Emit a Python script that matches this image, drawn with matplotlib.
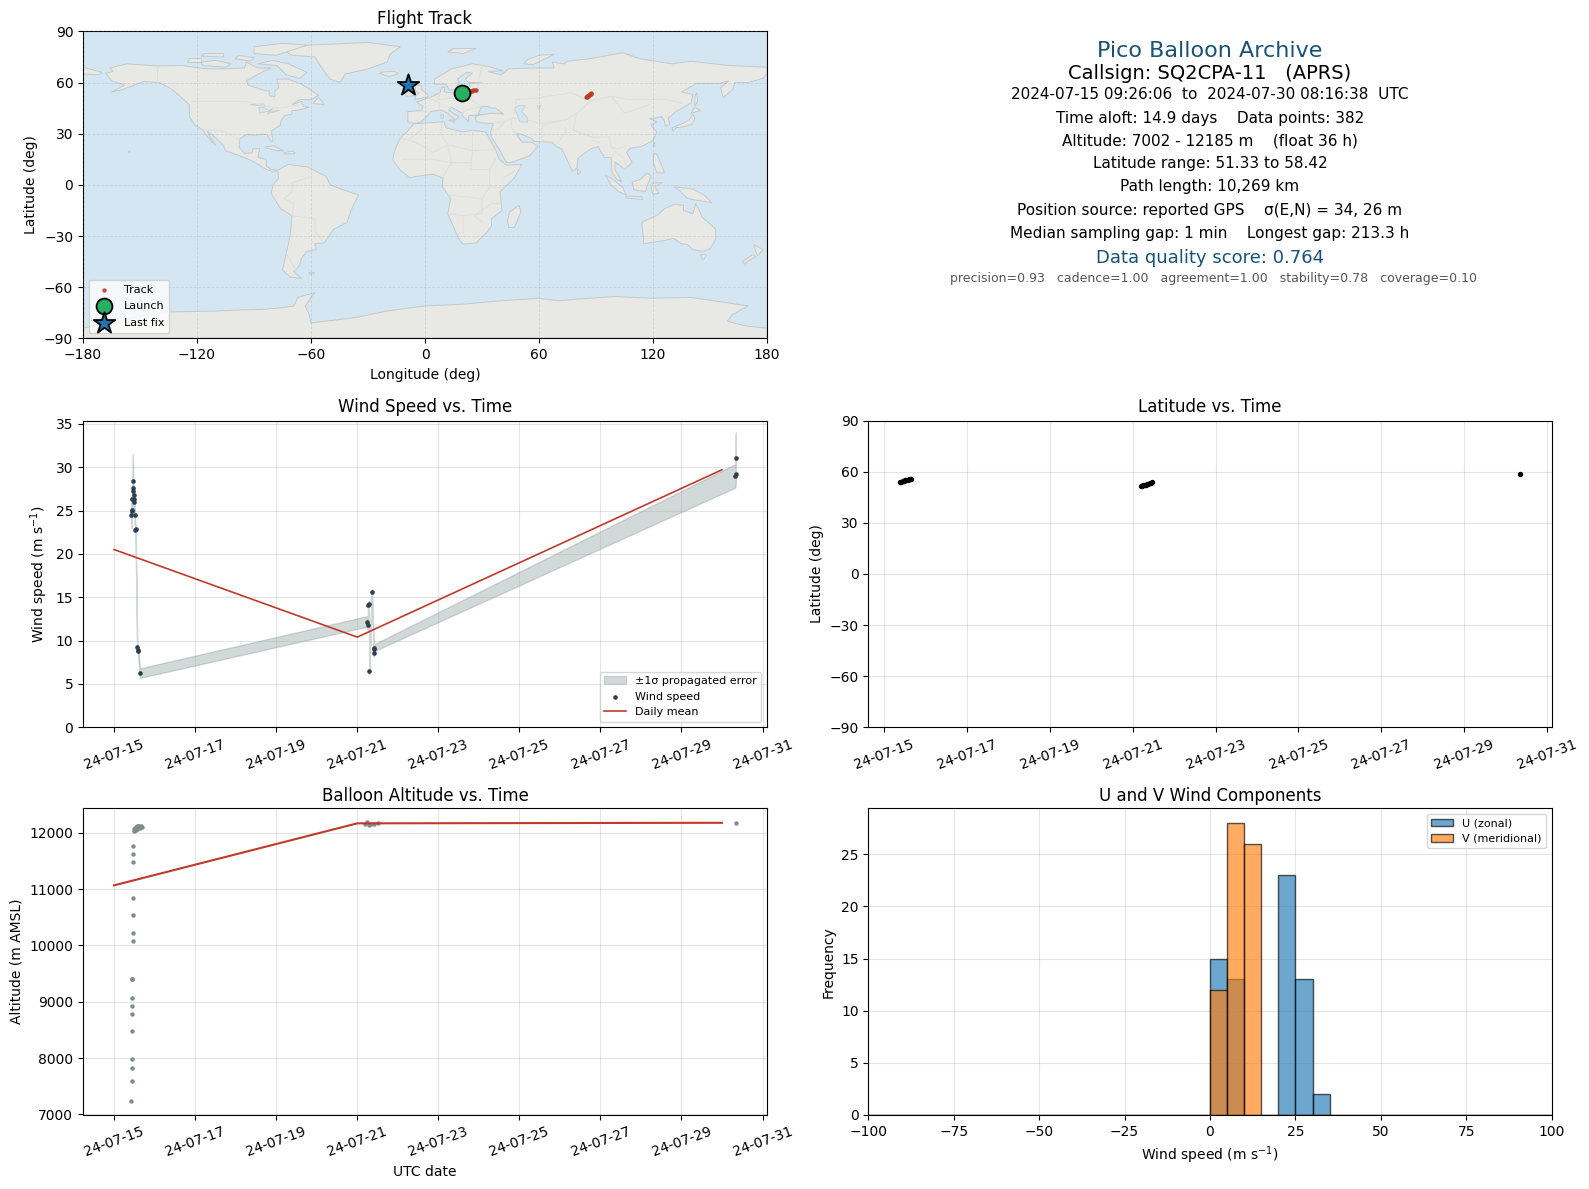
import numpy as np
import matplotlib
matplotlib.use("Agg")
import matplotlib.pyplot as plt
import matplotlib.dates as mdates
from matplotlib.patches import Polygon

# ---------- data ----------
T0 = mdates.date2num(np.datetime64("2024-07-15"))
tick_days = [0, 2, 4, 6, 8, 10, 12, 14, 16]

wind_days = [0.425, 0.430, 0.435, 0.445, 0.464, 0.470, 0.475, 0.490, 0.495, 0.500, 0.510, 0.520, 0.530,
             0.570, 0.580, 0.590, 0.640,
             6.23, 6.26, 6.27, 6.285, 6.30, 6.36, 6.41, 6.42, 6.425,
             15.33, 15.335, 15.34]
wind_speed = [24.5, 25.1, 24.9, 26.3, 28.4, 27.6, 27.3, 26.8, 26.0, 26.3, 24.5, 22.7, 22.85,
              9.25, 8.9, 8.8, 6.25,
              12.2, 11.8, 14.1, 14.25, 6.45, 15.6, 8.55, 9.0, 9.2,
              29.0, 29.2, 31.1]
wind_sigma = [1.5, 1.2, 1.0, 0.8, 3.1, 1.5, 1.0, 0.8, 0.8, 0.8, 0.8, 0.5, 0.5,
              0.4, 0.4, 0.4, 0.55,
              0.6, 0.5, 0.3, 0.3, 0.3, 0.3, 0.4, 0.4, 0.4,
              1.35, 1.35, 2.9]

mean_days = [0, 6, 15]
wind_mean = [20.5, 10.4, 29.7]
alt_mean = [11065, 12165, 12175]

alt_days = [0.42, 0.44, 0.44, 0.44, 0.44, 0.44, 0.44, 0.44, 0.44, 0.44,
            0.465, 0.465, 0.465, 0.465, 0.465, 0.465, 0.465,
            0.49, 0.50, 0.51, 0.52, 0.53, 0.54, 0.55, 0.56, 0.57, 0.58, 0.59, 0.60, 0.62, 0.64, 0.66, 0.68,
            6.2, 6.25, 6.3, 6.35, 6.42, 6.5, 15.34]
altitude = [7240, 7593, 7824, 7984, 8481, 8783, 8921, 9063, 9400, 9400,
            10074, 10216, 10536, 10838, 11478, 11620, 11763,
            12030, 12060, 12040, 12085, 12055, 12100, 12060, 12110, 12070, 12125, 12085, 12090, 12110, 12090, 12120, 12100,
            12150, 12185, 12140, 12160, 12150, 12165, 12170]

lat_days = [0.39, 0.42, 0.45, 0.48, 0.51, 0.54, 0.57, 0.60, 0.63, 0.66,
            6.20, 6.23, 6.26, 6.29, 6.32, 6.35, 6.38, 6.41, 6.44, 6.47,
            15.34]
latitude = [54.0, 54.2, 54.4, 54.6, 54.8, 55.0, 55.2, 55.4, 55.6, 55.9,
            51.33, 51.6, 51.9, 52.2, 52.4, 52.7, 53.0, 53.2, 53.5, 53.8,
            58.42]
longitude = [20.5, 21.2, 22.0, 22.8, 23.5, 24.2, 24.9, 25.5, 26.1, 26.8,
             84.8, 85.1, 85.4, 85.7, 86.0, 86.3, 86.6, 86.9, 87.2, 87.6,
             -8.8]

launch_lon, launch_lat = 19.3, 53.6
last_lon, last_lat = -8.8, 58.42

hist_edges = list(range(-100, 105, 5))
hist_left = hist_edges[:-1]
u_counts = {0: 15, 5: 13, 20: 23, 25: 13, 30: 2}
v_counts = {0: 12, 5: 28, 10: 26}

info_lines = [
    ("Pico Balloon Archive", 16, "#1a5276", 51.4, 1210),
    ("Callsign: SQ2CPA-11   (APRS)", 14, "black", 73.7, 1210),
    ("2024-07-15 09:26:06  to  2024-07-30 08:16:38  UTC", 11, "black", 94.7, 1210),
    ("Time aloft: 14.9 days    Data points: 382", 11, "black", 118, 1210),
    ("Altitude: 7002 - 12185 m    (float 36 h)", 11, "black", 140.7, 1210),
    ("Latitude range: 51.33 to 58.42", 11, "black", 163.5, 1210),
    ("Path length: 10,269 km", 11, "black", 187, 1210),
    ("Position source: reported GPS    \u03c3(E,N) = 34, 26 m", 11, "black", 210.5, 1210),
    ("Median sampling gap: 1 min    Longest gap: 213.3 h", 11, "black", 233.7, 1210),
    ("Data quality score: 0.764", 13, "#1a5276", 258.2, 1210),
    ("precision=0.93   cadence=1.00   agreement=1.00   stability=0.78   coverage=0.10", 9, "#555555", 278.4, 1213.5),
]

# coarse world outline (lon, lat)
land = [
 [(-168,65.5),(-164,66.5),(-166,68.5),(-157,71),(-141,69.7),(-128,70),(-115,68),(-108,68),(-95,68.5),(-94,72),(-88,68.5),(-81,68.5),(-86,66),(-94,61),(-93,58.5),(-85,55.5),(-82,55),(-82,52.5),(-79,51.5),(-79,55),(-77,57),(-78,62),(-72,62),(-65,59),(-62,57),(-56,52.5),(-60,50),(-66,50),(-70,47),(-65,49),(-64,46),(-61,45.5),(-66,44),(-70,43.5),(-70,41.5),(-74,40.5),(-76,37),(-76,35),(-81,31.5),(-80,27),(-80.5,25.2),(-82,27),(-83,29.5),(-85,29.7),(-90,29.2),(-94,29.5),(-97.5,27),(-97.8,22),(-95,18.5),(-91,18.8),(-90.5,21),(-87,21.5),(-88,16),(-83.5,15),(-83.5,11),(-81,9),(-77.5,8.5),(-80,7.5),(-85,10),(-90,13.5),(-95,16),(-105,20),(-106,23),(-112,29.5),(-114.7,31.5),(-112,26),(-110,23),(-112,25),(-115,29),(-117.2,32.5),(-121,35),(-124,40),(-124,47),(-128,51),(-133,56),(-140,60),(-148,60.5),(-152,59),(-160,55.5),(-165,54.5),(-158,58.5),(-165,61)],
 [(-73,78),(-66,81),(-60,82),(-30,83.5),(-13,81),(-18,77),(-20,72),(-30,68),(-42,65),(-44.7,60),(-50,62),(-54,68),(-58,75),(-70,76)],
 [(-80,73),(-72,71),(-62,66),(-66,62.5),(-73,64.5),(-78,70),(-88,71)],
 [(-117,70),(-105,69),(-102,71),(-110,73),(-118,72)],
 [(-90,77),(-78,76),(-62,82),(-75,83),(-90,81)],
 [(-125,72),(-118,72),(-118,74.5),(-124,74.5)],
 [(-100,74),(-92,72.5),(-90,74.5),(-98,76)],
 [(-118,75.5),(-106,75),(-106,77),(-116,77)],
 [(-59,47.7),(-53,47),(-56,51.5)],
 [(-84.5,22),(-80,23),(-74.5,20),(-78,20)],
 [(-74,19),(-69,19.8),(-68.5,18.3),(-74,18)],
 [(-77.5,8.5),(-72,12),(-62,10.5),(-52,5),(-50,0),(-44,-2.5),(-35,-6),(-39,-15),(-41,-22),(-48,-26),(-53,-34),(-58,-34.5),(-57,-38),(-62,-39),(-65,-43),(-66,-47),(-69,-51),(-65,-55),(-71,-54),(-75,-50),(-73,-40),(-71,-30),(-70,-18),(-76,-14),(-81,-5),(-80,0),(-77,4)],
 [(-61,-51.5),(-58,-51.5),(-59,-52.3),(-61,-52.2)],
 [(-6,35.8),(10,37),(11,33.5),(20,31),(25,32),(32,31),(32.5,30),(37,21),(39,15),(43,11.5),(51,12),(47,4),(39.5,-4),(40.5,-15),(35,-20),(35,-24),(32.5,-28),(27,-34),(20,-34.8),(18,-32),(12,-17),(13.5,-8),(9,-1),(9.5,4),(4,6.3),(-4,5),(-8,4.3),(-13,8.5),(-17,14.7),(-16,20),(-13,27.5),(-9.5,31)],
 [(49.5,-12),(50.5,-16),(47,-25),(44,-25),(43.5,-21),(44.5,-16)],
 [(-9,37),(-9,43),(-2,43.5),(-1,46),(-4.5,48.5),(2,51),(8,54),(8.5,57),(10.5,57.5),(10,54.5),(14,54),(19,54.5),(21,57),(24,58),(23,59.5),(30,60),(23,60),(21,62),(25,65.5),(22,66),(17,62),(18,60),(16,56),(13,55.5),(11,59),(5,59),(5,62),(14,68),(25,71),(33,69.5),(41,67),(33,66.5),(40,64.5),(44,68),(54,68.5),(68,68.5),(67,72),(73,71),(75,72.5),(87,74),(104,77.5),(113,74),(130,71),(140,72.5),(160,70),(170,69.5),(180,69),(180,65),(178,62.5),(170,60),(163,60),(162,56),(157,51),(155.5,57),(160,61),(155,59.5),(143,59.5),(135,54.5),(141,53),(140,48),(132,43),(128,39),(129,35.5),(126.5,34.5),(126,37.5),(124.5,40),(121,39),(118,39),(122,37),(119,35),(122,31),(120,26),(114,22.5),(108,21.5),(106,19),(109,13),(105,9),(103,11),(100,13.5),(100,9),(103.5,2),(101,3),(98.3,8),(98,16),(94.5,16),(91,22.5),(87,21),(80.5,15.5),(80,10),(77.5,8),(73,19),(72,21),(69,22.5),(67,25),(57,25.5),(56.5,27),(50,30),(48,30),(51,25),(56,25),(59.5,22.5),(55,17),(45,13),(43,13),(39,21),(35,28),(34.5,31),(36,36),(30,36.3),(27,37),(26.5,40),(29,41),(35,42),(41.5,41.5),(37,45),(35,45),(33,46),(30,46),(28,42),(29,41.2),(26,40.8),(23,40.5),(23,37),(20,40),(19.5,42),(14,45.5),(12.5,44),(16,41),(18,40),(16,38),(12,42),(8.5,44),(3,43),(0,39),(-2,37),(-5.5,36)],
 [(-180,65),(-172,64.5),(-170,66),(-175,67.5),(-180,69)],
 [(-5.5,50),(1.5,51.5),(1.5,53),(-2,56),(-2,58.5),(-5,58.5),(-5,55),(-3,54),(-5,52)],
 [(-10,52),(-6,52.3),(-6,55),(-10,54.5)],
 [(-24,65.5),(-19,63.5),(-14,65),(-16,66.5),(-22,66.3)],
 [(12,78),(20,77),(27,80),(15,80)],
 [(52,71),(57,70.5),(68,76.5),(60,76),(54,73.5)],
 [(142,46),(143.5,49),(143,54),(142,52)],
 [(141,41.5),(142,39),(140.5,35.5),(136,34),(132,33.5),(130.5,31.5),(130,33.5),(135,35.7),(139,38)],
 [(140,42),(145,43.5),(142,45.5)],
 [(121,25),(121,22.5),(120,23)],
 [(120.5,18.5),(122,18),(124,13),(126,7),(122,7),(120,14)],
 [(80,9.5),(82,7.5),(80.5,6)],
 [(95,5.5),(98,4),(104,-1.5),(106,-6),(102,-4),(98,0)],
 [(105.5,-6.5),(114,-7),(114.5,-8.5),(106,-7.8)],
 [(109,1.5),(113,3),(117,7),(119,5),(117.5,1),(116,-4),(110,-3)],
 [(120,1),(125,1.5),(121,-1),(123,-5),(120,-5.5),(119,-2)],
 [(131,-1),(141,-2.5),(147,-6),(151,-10.5),(143,-9),(138,-8),(134,-3.5)],
 [(114,-22),(122,-18),(126,-14),(131,-11.5),(136,-12),(136,-15),(141,-17),(142.5,-11),(146,-19),(153,-26),(153,-32),(150,-37.5),(146,-39),(141,-38),(138,-35),(135,-34.5),(131,-31.5),(124,-33),(115,-34.5),(115,-31)],
 [(145,-41),(148,-41),(147,-43.5),(146,-43.5)],
 [(173,-35),(178,-38),(175,-41.5),(174,-39)],
 [(172.5,-41),(174,-42),(168,-46.5),(167,-45)],
 [(12.5,38),(15.5,38),(15,36.7)],
 [(8.3,41),(9.7,41),(9.5,39),(8.5,39)],
 [(-156,20),(-155,19.5),(-155.8,19)],
 [(-180,-84),(-160,-80),(-150,-77),(-134,-74.5),(-110,-74),(-100,-73.5),(-85,-73),(-75,-72),(-69,-71),(-67,-66),(-58,-63.3),(-60,-66),(-63,-71),(-61,-76),(-60,-81),(-45,-79),(-35,-77.5),(-20,-74),(0,-71),(20,-70),(40,-68),(60,-66.5),(70,-68),(80,-67),(100,-65.5),(120,-66.5),(140,-66),(155,-68.5),(170,-71),(162,-76),(159,-80),(170,-83),(180,-84),(180,-90),(-180,-90)],
]
inland_water = [
 [(47,45),(50,46.7),(53,46.5),(51,43),(54,39),(54,36.8),(50,37),(49,40)],
 [(-92,47),(-85,47.5),(-84,46),(-88,46.5)],
 [(-87.5,45.5),(-85,45.5),(-82,43.5),(-80,45),(-83,41.8),(-79,42.8),(-76.5,43.7),(-83,43),(-87,42)],
 [(59,46),(61,46.5),(60,44)],
]
borders = [
 [(-141,69.7),(-141,60)],
 [(-123,49),(-95,49),(-83,46),(-75,45),(-67,47)],
 [(-117,32.5),(-106,31.5),(-97,26)],
 [(-70,-18),(-58,-20),(-58,-27),(-54,-33)],
 [(-70,-18),(-69,-11),(-74,-8),(-70,-4),(-70,1),(-60,5)],
 [(-73,-40),(-68,-50)],
 [(-8,27),(-2,32),(-2,35)],
 [(-13,27.5),(-5,25),(4,19),(12,23.5),(25,20),(37,21)],
 [(25,32),(25,20),(24,9),(34,9),(37,15)],
 [(9.5,37),(8,30),(12,23.5),(14,13),(9,4)],
 [(-12,15),(4,15),(14,13),(24,13)],
 [(12,-6),(30,-8),(30,-17),(20,-18),(12,-17)],
 [(20,-18),(20,-28),(17,-29)],
 [(30,-22),(26,-18),(35,-11),(40,-11)],
 [(34,9),(34,-1),(30,-8)],
 [(34,-1),(41,-2),(41,4),(47,8)],
 [(2,51),(6,49),(8,47.5),(7,44)],
 [(-1.8,43.3),(3,42.5)],
 [(8,54),(7,50),(14,51),(14,54)],
 [(14,51),(24,50),(24,54),(28,56),(28,60)],
 [(24,50),(30,46),(22,44),(19.5,42)],
 [(28,60),(30,70)],
 [(47,42),(48,50),(60,51),(77,54),(87,49),(98,52),(107,50),(118,50),(127,50),(135,48)],
 [(87,49),(80,42),(74,38),(62,35),(61,30),(62,25)],
 [(54,38),(61,36),(66,37),(74,38)],
 [(36,36),(42,37),(45,39),(48,39)],
 [(45,39),(46,33),(48,30)],
 [(36,32),(39,33),(42,37)],
 [(98,52),(105,42),(118,47)],
 [(80,42),(78,32),(88,28),(97,28),(98,22),(101,21),(106,23)],
 [(74,34),(74,31),(70,25)],
 [(88,26),(92,25)],
 [(98,16),(100,20),(105,15),(106,11)],
]

# ---------- figure ----------
W, H = 1589, 1189
fig = plt.figure(figsize=(W / 100, H / 100), dpi=100)

def make_ax(x0, y0, x1, y1):
    return fig.add_axes([x0 / W, 1 - y1 / H, (x1 - x0) / W, (y1 - y0) / H])

LEFT = (83, 767)
RIGHT = (868.3, 1551.7)
ROW1 = (31.4, 338.3)
ROW2 = (420.5, 727.3)
ROW3 = (808.3, 1115)
RED = "#c0392b"

# map
ax = make_ax(LEFT[0], ROW1[0], LEFT[1], ROW1[1])
ax.set_facecolor("#d4e6f1")
for poly in land:
    ax.add_patch(Polygon(poly, closed=True, fc="#e8e8e4", ec="#c2cacd", lw=0.7, zorder=1))
for poly in inland_water:
    ax.add_patch(Polygon(poly, closed=True, fc="#d4e6f1", ec="#c2cacd", lw=0.5, zorder=1.1))
for line in borders:
    xs, ys = zip(*line)
    ax.plot(xs, ys, color="#dededa", lw=0.7, zorder=1.2)
ax.grid(True, ls="--", lw=0.6, color="gray", alpha=0.22, zorder=1.5)
ax.set_axisbelow(False)
ax.scatter(longitude[:-1], latitude[:-1], s=10, color=RED, alpha=0.9, lw=0, label="Track", zorder=3)
ax.scatter([launch_lon], [launch_lat], s=130, color="#27ae60", edgecolor="black", lw=1.3, label="Launch", zorder=5)
ax.scatter([last_lon], [last_lat], s=260, marker="*", color="#2176ae", edgecolor="black", lw=1.3, label="Last fix", zorder=5)
ax.set_xlim(-180, 180)
ax.set_ylim(-90, 90)
ax.set_xticks(range(-180, 181, 60))
ax.set_yticks(range(-90, 91, 30))
ax.xaxis.set_major_formatter(lambda v, p: f"{int(v)}".replace("-", "\u2212"))
ax.set_xlabel("Longitude (deg)")
ax.set_ylabel("Latitude (deg)")
ax.set_title("Flight Track", fontsize=12, pad=5)
ax.legend(loc="lower left", fontsize=8, labelspacing=0.62)

# info panel
for text, size, color, y, x in info_lines:
    fig.text(x / W, 1 - y / H, text, fontsize=size, color=color, ha="center", va="center")

def date_axis(a, xlim):
    a.set_xlim(T0 + xlim[0], T0 + xlim[1])
    a.set_xticks([T0 + d for d in tick_days])
    a.xaxis.set_major_formatter(mdates.DateFormatter("%y-%m-%d"))
    a.tick_params(axis="x", labelrotation=20)
    a.grid(True, color="gray", alpha=0.2, lw=0.8)
    a.set_axisbelow(True)

wt = T0 + np.array(wind_days)
ws = np.array(wind_speed)
sg = np.array(wind_sigma)
mt = T0 + np.array(mean_days)

# wind
ax = make_ax(LEFT[0], ROW2[0], LEFT[1], ROW2[1])
ax.fill_between(wt, ws - sg, ws + sg, facecolor="#95a5a6", edgecolor="#95a5a6", lw=1.0, alpha=0.42,
                label="\u00b11\u03c3 propagated error")
ax.scatter(wt, ws, s=11, color="#2c3e50", lw=0, label="Wind speed", zorder=3)
ax.plot(mt, wind_mean, color=RED, lw=1.2, label="Daily mean", zorder=4)
date_axis(ax, (-0.767, 16.11))
ax.set_ylim(0, 35.38)
ax.set_yticks(range(0, 36, 5))
ax.set_ylabel("Wind speed (m s$^{-1}$)")
ax.set_title("Wind Speed vs. Time", fontsize=12)
ax.legend(loc="lower right", fontsize=8)

# latitude
ax = make_ax(RIGHT[0], ROW2[0], RIGHT[1], ROW2[1])
ax.scatter(T0 + np.array(lat_days), latitude, s=15, color="black", lw=0, zorder=3)
date_axis(ax, (-0.38, 16.11))
ax.set_ylim(-90, 90)
ax.set_yticks(range(-90, 91, 30))
ax.set_ylabel("Latitude (deg)")
ax.set_title("Latitude vs. Time", fontsize=12)

# altitude
ax = make_ax(LEFT[0], ROW3[0], LEFT[1], ROW3[1])
ax.scatter(T0 + np.array(alt_days), altitude, s=10, color="#7f8c8d", lw=0, zorder=3)
ax.plot(mt, alt_mean, color=RED, lw=1.5, zorder=4)
date_axis(ax, (-0.767, 16.11))
ax.set_ylim(6990, 12432)
ax.set_xlabel("UTC date")
ax.set_ylabel("Altitude (m AMSL)")
ax.set_title("Balloon Altitude vs. Time", fontsize=12, pad=5.5)

# histogram
ax = make_ax(RIGHT[0], ROW3[0], RIGHT[1], ROW3[1])
centers = [e + 2.5 for e in hist_left]
ax.hist(centers, bins=hist_edges, weights=[u_counts.get(e, 0) for e in hist_left],
        color="#1f77b4", edgecolor="black", alpha=0.65, label="U (zonal)")
ax.hist(centers, bins=hist_edges, weights=[v_counts.get(e, 0) for e in hist_left],
        color="#ff7f0e", edgecolor="black", alpha=0.65, label="V (meridional)")
ax.set_xlim(-100, 100)
ax.set_ylim(0, 29.4)
ax.grid(True, color="gray", alpha=0.2, lw=0.8)
ax.set_axisbelow(True)
ax.set_xlabel("Wind speed (m s$^{-1}$)")
ax.set_ylabel("Frequency")
ax.set_title("U and V Wind Components", fontsize=12, pad=5.5)
ax.legend(loc="upper right", fontsize=8)

fig.savefig("out.png", dpi=100)
